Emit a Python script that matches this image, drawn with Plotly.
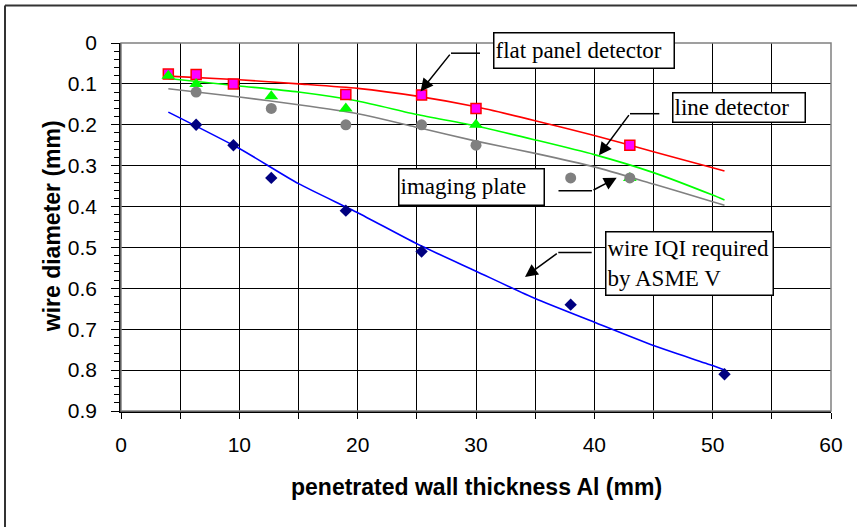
import plotly.graph_objects as go

# ---------------- data ----------------
flat_x = [4, 6.35, 9.5, 19, 25.4, 30, 43]
flat_y = [0.076, 0.077, 0.1, 0.126, 0.127, 0.16, 0.25]

line_x = [4, 6.35, 12.7, 19, 30, 43]
line_y = [0.08, 0.1, 0.13, 0.16, 0.2, 0.33]

ip_x = [6.35, 12.7, 19, 25.4, 30, 38, 43]
ip_y = [0.12, 0.16, 0.2, 0.2, 0.25, 0.33, 0.33]

asme_x = [6.35, 9.5, 12.7, 19, 25.4, 38, 51]
asme_y = [0.2, 0.25, 0.33, 0.41, 0.51, 0.64, 0.81]

# trend lines
trend_x = [4, 10, 15, 20, 25, 30, 35, 40, 45, 50, 51]
trend_flat = [0.081, 0.09, 0.1, 0.111, 0.13, 0.156, 0.19, 0.226, 0.266, 0.305, 0.313]
trend_line = [0.087, 0.105, 0.12, 0.142, 0.175, 0.203, 0.237, 0.273, 0.317, 0.372, 0.384]
trend_ip = [0.112, 0.132, 0.151, 0.173, 0.206, 0.24, 0.27, 0.303, 0.345, 0.388, 0.397]
trend_asme = [0.169, 0.258, 0.344, 0.415, 0.491, 0.558, 0.625, 0.683, 0.74, 0.789, 0.8]

x_title = "penetrated wall thickness Al (mm)"
y_title = "wire diameter (mm)"

# ---------------- layout geometry ----------------
W, H = 857, 527
L, R, T, B = 121, 831, 42.5, 411


def PX(px):
    return (px - L) / (R - L)


def PY(py):
    return (B - py) / (B - T)


SANS = "Liberation Sans, Arial, sans-serif"
SERIF = "Liberation Serif, Times New Roman, serif"

fig = go.Figure()

# trend lines
for ys, col in [(trend_asme, "#0000FF"), (trend_flat, "#FF0000"),
                (trend_line, "#00FF00"), (trend_ip, "#808080")]:
    fig.add_trace(go.Scatter(x=trend_x, y=ys, mode="lines",
                             line=dict(color=col, width=1.6, shape="spline", smoothing=0.6),
                             hoverinfo="skip"))

# markers
fig.add_trace(go.Scatter(x=asme_x, y=asme_y, mode="markers",
                         marker=dict(symbol="diamond", size=9.5, color="#000080")))
fig.add_trace(go.Scatter(x=flat_x, y=flat_y, mode="markers",
                         marker=dict(symbol="square", size=10, color="#FF00FF",
                                     line=dict(color="#FF0000", width=1.5))))
fig.add_trace(go.Scatter(x=line_x, y=line_y, mode="markers",
                         marker=dict(symbol="triangle-up", size=12, color="#00FF00")))
fig.add_trace(go.Scatter(x=ip_x, y=ip_y, mode="markers",
                         marker=dict(symbol="circle", size=11, color="#808080")))

shapes = []
annotations = []

# plot-area border (gray)
shapes.append(dict(type="rect", xref="paper", yref="paper", x0=0, x1=1, y0=0, y1=1,
                   line=dict(color="#808080", width=1.5), layer="above"))
# outer chart border (top and left visible)
shapes.append(dict(type="line", xref="paper", yref="paper", x0=PX(5), x1=PX(860),
                   y0=PY(5), y1=PY(5), line=dict(color="#333333", width=2)))
shapes.append(dict(type="line", xref="paper", yref="paper", x0=PX(5), x1=PX(5),
                   y0=PY(5), y1=PY(530), line=dict(color="#333333", width=2)))

# callout boxes
boxes = [
    ("flat panel detector", 492.7, 674.3, 31.7, 69.0),
    ("line detector", 672.4, 806.5, 91.8, 122.7),
    ("imaging plate", 398.0, 545.0, 168.3, 206.0),
    ("wire IQI required<br>by ASME V", 605.0, 774.3, 231.0, 295.7),
]
for txt, x0, x1, y0, y1 in boxes:
    annotations.append(dict(
        text=txt, xref="paper", yref="paper",
        x=PX((x0 + x1) / 2), y=PY((y0 + y1) / 2),
        xanchor="center", yanchor="middle", showarrow=False,
        width=x1 - x0 - 5, height=y1 - y0 - 5, align="left", valign="middle",
        bgcolor="white", bordercolor="black", borderwidth=1.5, borderpad=1,
        font=dict(family=SERIF, size=23, color="black")))

# elbow arrows: (horizontal start, elbow, tip)
arrows = [
    ((480, 52.7), (451, 52.7), (420.5, 91.0)),
    ((659.3, 113.3), (630, 113.3), (599, 155)),
    ((558.5, 190.5), (592, 190.5), (616.7, 177.5)),
    ((591.7, 252.3), (558.3, 252.3), (525, 276.7)),
]
for (sx, sy), (ex, ey), (tx, ty) in arrows:
    shapes.append(dict(type="line", xref="paper", yref="paper",
                       x0=PX(sx), y0=PY(sy), x1=PX(ex), y1=PY(ey),
                       line=dict(color="black", width=1.5)))
    annotations.append(dict(
        text="", xref="paper", yref="paper", x=PX(tx), y=PY(ty),
        ax=ex - tx, ay=ey - ty, showarrow=True, arrowhead=2, arrowsize=1.7,
        arrowwidth=1.5, arrowcolor="black", standoff=0, startstandoff=0))

# axis titles
annotations.append(dict(text="<b>%s</b>" % x_title, xref="paper", yref="paper",
                        x=PX(476), y=PY(486.7), xanchor="center", yanchor="middle",
                        showarrow=False, font=dict(family=SANS, size=23, color="black")))
annotations.append(dict(text="<b>%s</b>" % y_title, xref="paper", yref="paper",
                        x=PX(52), y=PY(226), xanchor="center", yanchor="middle",
                        textangle=-90, showarrow=False,
                        font=dict(family=SANS, size=23, color="black")))

fig.update_layout(
    width=W, height=H,
    margin=dict(l=L, r=W - R, t=T, b=H - B, pad=0),
    paper_bgcolor="white", plot_bgcolor="white",
    showlegend=False,
    shapes=shapes, annotations=annotations,
    xaxis=dict(range=[0, 60], dtick=10, tick0=0, showgrid=True, gridcolor="black",
               gridwidth=1, zeroline=False, showline=True, linecolor="black",
               linewidth=1.5, ticks="outside", ticklen=6, tickcolor="black",
               tickwidth=1, ticklabelstandoff=8,
               minor=dict(dtick=5, showgrid=True, gridcolor="black", gridwidth=1,
                          ticks="outside", ticklen=6, tickcolor="black"),
               tickfont=dict(family=SANS, size=21, color="black")),
    yaxis=dict(range=[0.9, 0], dtick=0.1, tick0=0, showgrid=True, gridcolor="black",
               gridwidth=1, zeroline=False, showline=True, linecolor="black",
               linewidth=1.5, ticks="outside", ticklen=8, tickcolor="black",
               tickwidth=1, ticklabelstandoff=10,
               minor=dict(dtick=0.02, showgrid=False, ticks="outside", ticklen=5,
                          tickcolor="black"),
               tickfont=dict(family=SANS, size=21, color="black")),
)

fig.write_html("out.html", config={"displayModeBar": False},
               post_script="document.body.style.margin='0';document.body.style.overflow='hidden';")
